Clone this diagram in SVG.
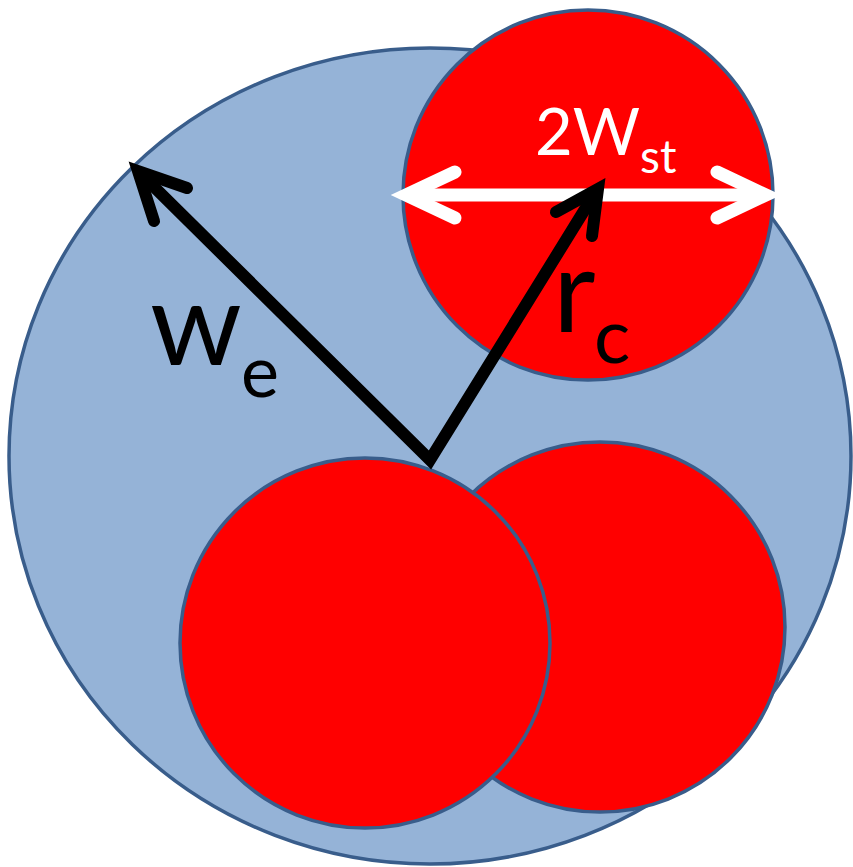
<svg xmlns="http://www.w3.org/2000/svg" width="853" height="867" viewBox="0 0 853 867">
<style>
.shape{stroke:#395d8b;stroke-width:3.5}
.red{fill:#ff0000}
.blk{fill:none;stroke:#000;stroke-width:12}
.wht{fill:none;stroke:#fff;stroke-width:13}
.lbl{font-family:Lato,"Open Sans","Liberation Sans",sans-serif}
</style>
<rect width="853" height="867" fill="#fff"/>
<g id="outer"><ellipse class="shape" cx="430" cy="456" rx="421" ry="408" fill="#95b3d7"/></g>
<g id="disk-bottom-right"><circle class="shape red" cx="600" cy="627" r="185"/></g>
<g id="disk-bottom-left"><circle class="shape red" cx="365" cy="643" r="185"/></g>
<g id="disk-top"><circle class="shape red" cx="588" cy="195" r="185"/></g>
<g id="connectors">
<g id="width-arrow">
<path class="wht" d="M412,195 H759" stroke-linecap="butt"/>
<path class="wht" d="M455,172 L406,195 L455,218" stroke-linecap="round" stroke-linejoin="miter"/>
<path class="wht" d="M717,172 L766,195 L717,218" stroke-linecap="round" stroke-linejoin="miter"/>
</g>
<g id="radius-arrows">
<path class="blk" d="M142,175 L430,460 L595,193" stroke-linejoin="miter" stroke-miterlimit="10"/>
<path class="blk" d="M187,188 L138,171 L154,221" stroke-linecap="round" stroke-linejoin="miter"/>
<path class="blk" d="M556,212 L598,189 L592,236" stroke-linecap="round" stroke-linejoin="miter"/>
</g>
</g>
<g id="labels" class="lbl">
<text x="535" y="155" font-size="65" fill="#fff">2W</text>
<text x="640" y="173" font-size="46" fill="#fff">st</text>
<text x="553" y="332" font-size="117" fill="#000">r</text>
<text x="594" y="363" font-size="76" fill="#000">c</text>
<text x="150" y="365" font-size="117" fill="#000">w</text>
<text x="241" y="397" font-size="72" fill="#000">e</text>
</g>
</svg>
